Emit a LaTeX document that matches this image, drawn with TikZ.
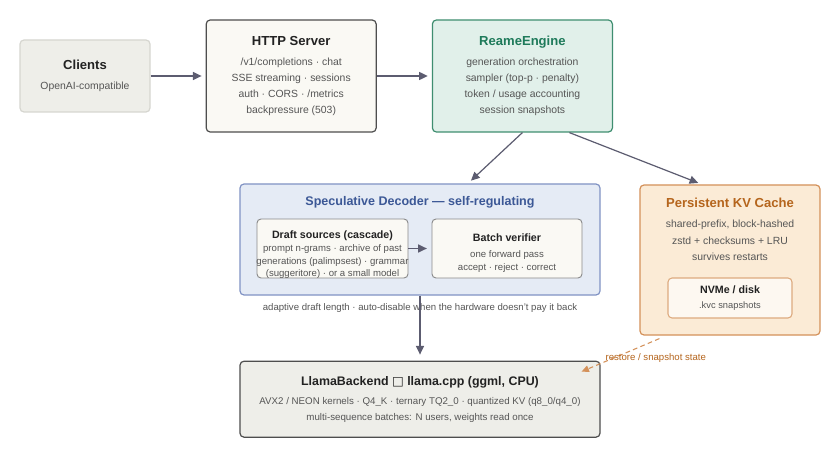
\documentclass[tikz,border=0pt]{standalone}
\usepackage{fontspec}
\setmainfont{Liberation Sans}
\newfontfamily\simbol{DejaVu Sans}
\usetikzlibrary{positioning,arrows.meta,calc}
\definecolor{textgri}{HTML}{555555}
\definecolor{titlunegru}{HTML}{222222}
\definecolor{linie}{HTML}{5C5C70}
\definecolor{clientfill}{HTML}{EEEEE9}
\definecolor{clientdraw}{HTML}{D6D6D0}
\definecolor{hartie}{HTML}{FAF9F4}
\definecolor{chenar}{HTML}{4E4E4E}
\definecolor{verdefill}{HTML}{E1F0EA}
\definecolor{verdedraw}{HTML}{3F8E70}
\definecolor{verdetitlu}{HTML}{1E7A5A}
\definecolor{albastrufill}{HTML}{E5EBF5}
\definecolor{albastrudraw}{HTML}{8193C4}
\definecolor{albastrutitlu}{HTML}{3C5896}
\definecolor{gridraw}{HTML}{8A8A8A}
\definecolor{portfill}{HTML}{FBEBD6}
\definecolor{portdraw}{HTML}{D4915A}
\definecolor{porttitlu}{HTML}{B5651D}
\definecolor{discfill}{HTML}{FDF8F1}
\definecolor{discdraw}{HTML}{DDAA7F}
\newcommand{\titlu}[3][9.8]{{\color{#2}\fontsize{#1}{12}\selectfont\bfseries #3}}
\tikzset{
  bloc/.style     = {draw, rounded corners=3pt, align=center, inner sep=2pt,
                     line width=0.9pt, text=textgri, font=\fontsize{7.8}{12}\selectfont},
  subbloc/.style  = {bloc, line width=0.7pt, fill=hartie, draw=gridraw},
  textmic/.style  = {inner sep=0pt, align=center, text=textgri},
  eticheta/.style = {font=\fontsize{7.2}{8}\selectfont, text=textgri, inner sep=1pt},
  sageata/.style  = {-{Triangle[length=6.5pt,width=6pt]}, line width=0.9pt, draw=linie,
                     shorten >=3pt},
  punctat/.style  = {-{Triangle[length=5.5pt,width=5pt]}, line width=0.8pt, draw=portdraw,
                     dash pattern=on 3.5pt off 2.5pt}
}
\begin{document}
\begin{tikzpicture}[x=0.75pt, y=-0.75pt]
  \useasboundingbox[fill=white] (0,0) rectangle (840,460);

  \node[bloc, fill=clientfill, draw=clientdraw, minimum width=97.5pt, minimum height=54pt] (clients) at (85,76)
    {\titlu{titlunegru}{Clients}\\[3pt] OpenAI-compatible};
  \node[bloc, fill=hartie, draw=chenar, minimum width=127.5pt, minimum height=84pt, right=41.25pt of clients] (http)
    {\titlu{titlunegru}{HTTP Server}\\[3pt] /v1/completions · chat\\ SSE streaming · sessions\\ auth · CORS · /metrics\\ backpressure (503)};
  \node[bloc, fill=verdefill, draw=verdedraw, minimum width=135pt, minimum height=84pt, right=41.25pt of http] (engine)
    {\titlu{verdetitlu}{ReameEngine}\\[3pt] generation orchestration\\ sampler (top-p · penalty)\\ token / usage accounting\\ session snapshots};

  % decodor speculativ
  \node[bloc, fill=albastrufill, draw=albastrudraw, minimum width=270pt, minimum height=83.25pt] (spec) at (420,239.5) {};
  \node[inner sep=0pt] (spectitlu) at ($(spec.north)+(0,19)$) {\titlu[9.4]{albastrutitlu}{Speculative Decoder — self-regulating}};
  \node[subbloc, minimum width=113.25pt, minimum height=44.25pt] (draft) at (332.5,248.5) {};
  \node[textmic, font=\fontsize{7.2}{9.5}\selectfont] (drafttext) at (332.5,254.5)
    {\titlu[8]{titlunegru}{Draft sources (cascade)}\\[0.5pt] prompt n-grams · archive of past\\ generations (palimpsest) · grammar\\ (suggeritore) · or a small model};
  \node[subbloc, minimum width=112.5pt, minimum height=44.25pt] (verif) at (507,248.5) {};
  \node[textmic, font=\fontsize{7.2}{9.8}\selectfont] (veriftext) at (507,253)
    {\titlu[8]{titlunegru}{Batch verifier}\\[2.5pt] one forward pass\\ accept · reject · correct};
  \node[eticheta] (adaptiv) at ($(spec.south)+(0,12)$)
    {adaptive draft length · auto-disable when the hardware doesn't pay it back};

  % cache persistent
  \node[bloc, fill=portfill, draw=portdraw, minimum width=135pt, minimum height=112.5pt] (kv) at (730,260) {};
  \node[textmic, font=\fontsize{7.8}{12.5}\selectfont] (kvtext) at (730,229.5)
    {\titlu{porttitlu}{Persistent KV Cache}\\[2.5pt] shared-prefix, block-hashed\\ zstd + checksums + LRU\\ survives restarts};
  \node[bloc, fill=discfill, draw=discdraw, line width=0.8pt, minimum width=93pt, minimum height=30pt,
        font=\fontsize{7}{10}\selectfont] (disc) at (730,298)
    {\titlu[8]{titlunegru}{NVMe / disk}\\[1pt] .kvc snapshots};

  \node[bloc, fill=clientfill, draw=chenar, minimum width=270pt, minimum height=57pt,
        font=\fontsize{7.3}{12}\selectfont, below=48.75pt of spec] (llama)
    {\titlu[9.3]{titlunegru}{LlamaBackend {\simbol □} llama.cpp (ggml, CPU)}\\[2.5pt]
     AVX2 / NEON kernels · Q4\_K · ternary TQ2\_0 · quantized KV (q8\_0/q4\_0)\\
     multi-sequence batches: N users, weights read once};

  \draw[sageata] (clients) -- (http);
  \draw[sageata] (http) -- (engine);
  \draw[sageata] (engine.south) -- ($(spec.north)+(48,0)$);
  \draw[sageata] ($(engine.south)+(47,0)$) -- ($(kv.north)+(-28,0)$);
  \draw[sageata, shorten >=3.5pt] (draft.east) -- (verif.west);
  \draw[sageata, shorten >=4.5pt] (spec.south) -- (llama.north);

  \draw[punctat] ($(kv.south west)+(20,3)$) -- ($(llama.north east)+(-19,11)$);
  \node[eticheta, text=porttitlu, anchor=west] (restaurare) at (604,358) {restore / snapshot state};
\end{tikzpicture}
\end{document}
